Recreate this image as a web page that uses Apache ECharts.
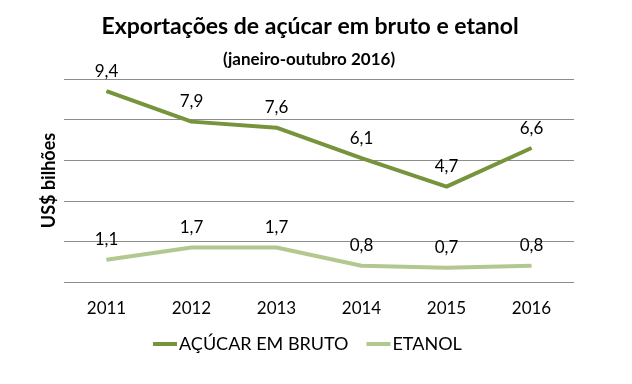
<!DOCTYPE html>
<html><head><meta charset="utf-8">
<script src="https://cdn.jsdelivr.net/npm/echarts@6/dist/echarts.min.js"></script>
<style>html,body{margin:0;padding:0;background:#fff}#c{width:632px;height:384px}</style>
</head><body><div id="c"></div>
<script>
const categories = ['2011','2012','2013','2014','2015','2016'];
const acucar = [9.4, 7.9, 7.6, 6.1, 4.7, 6.6];
const etanol = [1.1, 1.7, 1.7, 0.8, 0.7, 0.8];
const FONT = 'Lato, "Open Sans", sans-serif';
const fmt = p => String(p.value).replace('.', ',');
const chart = echarts.init(document.getElementById('c'));
const lbl = { show: true, position: 'top', distance: 11, fontSize: 17, color: '#000', fontFamily: FONT, formatter: fmt };
chart.setOption({
  animation: false,
  textStyle: { fontFamily: FONT },
  title: [
    { text: 'Exportações de açúcar em bruto e etanol', left: 305, textAlign: 'center', top: 10,
      textStyle: { fontSize: 23, fontWeight: 'bold', color: '#000', fontFamily: FONT } },
    { text: '(janeiro-outubro 2016)', left: 304, textAlign: 'center', top: 46,
      textStyle: { fontSize: 17, fontWeight: 'bold', color: '#000', fontFamily: FONT } }
  ],
  grid: { left: 64, right: 58, top: 79, bottom: 102 },
  legend: {
    bottom: 26, left: 148, itemGap: 18, itemWidth: 24, itemHeight: 4,
    icon: 'rect',
    textStyle: { fontSize: 18, color: '#000', fontFamily: FONT, padding: [0, 0, 0, -3] },
    data: ['AÇÚCAR EM BRUTO', 'ETANOL']
  },
  xAxis: {
    type: 'category', data: categories, boundaryGap: true,
    axisLine: { show: false }, axisTick: { show: false },
    axisLabel: { fontSize: 17, color: '#000', margin: 18, fontFamily: FONT }
  },
  yAxis: {
    type: 'value', min: 0, max: 10, interval: 2,
    name: 'US$ bilhões', nameLocation: 'middle', nameGap: 6, nameRotate: 90,
    nameTextStyle: { fontSize: 18, fontWeight: 'bold', color: '#000', fontFamily: FONT },
    axisLabel: { show: false }, axisLine: { show: false }, axisTick: { show: false },
    splitLine: { lineStyle: { color: '#8c8c8c', width: 1 } }
  },
  series: [
    { name: 'AÇÚCAR EM BRUTO', type: 'line', data: acucar, symbol: 'circle', symbolSize: 1, showSymbol: true,
      lineStyle: { color: '#77933C', width: 4 }, itemStyle: { color: '#77933C' },
      label: lbl },
    { name: 'ETANOL', type: 'line', data: etanol, symbol: 'circle', symbolSize: 1, showSymbol: true,
      lineStyle: { color: '#B3C88F', width: 4 }, itemStyle: { color: '#B3C88F' },
      label: lbl }
  ]
});
</script></body></html>
